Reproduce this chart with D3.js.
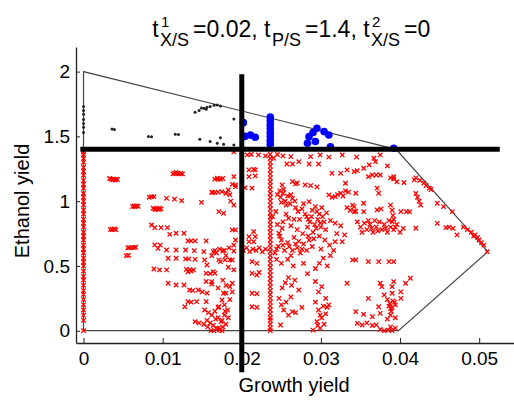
<!DOCTYPE html>
<html>
<head>
<meta charset="utf-8">
<script src="https://cdn.jsdelivr.net/npm/d3@7"></script>
<style>
  body { margin: 0; background: #fff; }
  svg { display: block; }
  text { font-family: "Liberation Sans", Arial, Helvetica, sans-serif; fill: #000; }
</style>
</head>
<body>
<svg id="chart" width="514" height="400"></svg>
<script>
// Thresholds shown in the title and drawn as the two thick guide lines
const growthThreshold1 = 0.02;
const ethanolThreshold = 1.4;
const growthThreshold2 = 0;

// Axis ticks
const xTickValues = [0, 0.01, 0.02, 0.03, 0.04, 0.05];
const xTickLabels = ["0", "0.01", "0.02", "0.03", "0.04", "0.05"];
const yTickValues = [0, 0.5, 1, 1.5, 2];
const yTickLabels = ["0", "0.5", "1", "1.5", "2"];

// Feasible yield space boundary (growth yield, ethanol yield)
const boundary = [[0, 0], [0, 2], [0.0395, 1.4], [0.0511, 0.61], [0.0398, 0], [0, 0]];

// Strains meeting both thresholds
const bluePoints = [
  [0.0202, 1.606], [0.0204, 1.50], [0.0211, 1.51], [0.0217, 1.493],
  [0.0236, 1.44], [0.0236, 1.47], [0.0236, 1.50], [0.0236, 1.53], [0.0236, 1.56],
  [0.0236, 1.59], [0.0236, 1.62], [0.0236, 1.65],
  [0.0295, 1.563], [0.0304, 1.537], [0.0310, 1.511], [0.0285, 1.498], [0.0290, 1.53],
  [0.0283, 1.447], [0.0293, 1.46], [0.0312, 1.42], [0.0392, 1.408]
];

// Strains above the ethanol threshold but below the growth threshold
const blackPoints = [
  [0, 1.53], [0, 1.57], [0, 1.60], [0, 1.63], [0, 1.67], [0, 1.70], [0, 1.73],
  [0.0036, 1.557], [0.0039, 1.553], [0.0082, 1.50], [0.0086, 1.497],
  [0.0116, 1.517], [0.0120, 1.515], [0.0141, 1.686], [0.0146, 1.70], [0.0149, 1.72],
  [0.0152, 1.717], [0.0155, 1.71], [0.0156, 1.725], [0.0160, 1.73], [0.0165, 1.74],
  [0.0169, 1.743], [0.0173, 1.735], [0.0190, 1.635],
  [0.0147, 1.478], [0.0160, 1.46], [0.0173, 1.49], [0.0169, 1.447], [0.0177, 1.44], [0.0190, 1.434]
];

// Strains below the ethanol threshold: zero-growth column
const redZeroGrowthY = [0, 0.08, 0.12, 0.16, 0.2, 0.24, 0.28, 0.31, 0.35, 0.39, 0.42, 0.46, 0.5,
  0.53, 0.56, 0.6, 0.63, 0.66, 0.7, 0.73, 0.76, 0.8, 0.83, 0.86, 0.9, 0.93, 0.97, 1.0, 1.03,
  1.06, 1.1, 1.13, 1.16, 1.2, 1.23, 1.26, 1.3, 1.33, 1.36, 1.38];

// Column of strains at growth yield 0.0236
const redColumnX = 0.0236;
const redColumnY = [0, 0.02, 0.05, 0.08, 0.1, 0.13, 0.16, 0.19, 0.22, 0.25, 0.28, 0.31, 0.34,
  0.37, 0.4, 0.43, 0.46, 0.49, 0.52, 0.55, 0.58, 0.61, 0.64, 0.67, 0.7, 0.73, 0.76, 0.79, 0.82,
  0.85, 0.88, 0.91, 0.94, 0.97, 1.0, 1.03, 1.06, 1.09, 1.12, 1.15, 1.18, 1.21, 1.24, 1.27, 1.3,
  1.33, 1.36];

// Remaining strains below the ethanol threshold
const redPoints = [
  [0.0035, 1.17], [0.0038, 1.17], [0.0041, 1.17], [0.0037, 1.165],
  [0.0033, 1.175], [0.0040, 1.163], [0.0043, 1.168],
  [0.0115, 1.215], [0.0119, 1.215], [0.0123, 1.215], [0.0121, 1.21],
  [0.0113, 1.21], [0.0125, 1.21], [0.0117, 1.222],
  [0.0166, 1.17], [0.0169, 1.177],
  [0.0086, 1.035], [0.0083, 1.03], [0.0089, 1.035],
  [0.0105, 1.022], [0.0115, 1.015], [0.0124, 1.004], [0.0149, 0.99],
  [0.0163, 1.066], [0.0166, 1.066], [0.0162, 1.07], [0.0170, 1.07], [0.0175, 1.073], [0.0180, 1.06], [0.0185, 1.05],
  [0.0064, 0.963], [0.0067, 0.963], [0.0065, 0.958], [0.0062, 0.958], [0.0069, 0.96],
  [0.0090, 0.94], [0.0093, 0.94], [0.0096, 0.945], [0.0091, 0.935], [0.0088, 0.945], [0.0095, 0.935], [0.0098, 0.94],
  [0.0036, 0.783], [0.0039, 0.785], [0.0034, 0.78], [0.0041, 0.78],
  [0.0086, 0.816], [0.0090, 0.795], [0.0098, 0.795], [0.0106, 0.795],
  [0.0109, 0.744], [0.0117, 0.752], [0.0127, 0.752],
  [0.0058, 0.641], [0.0061, 0.641], [0.0064, 0.641], [0.0066, 0.645], [0.0056, 0.64],
  [0.0054, 0.579], [0.0057, 0.582],
  [0.0090, 0.662], [0.0094, 0.636], [0.0097, 0.66], [0.0105, 0.623], [0.0117, 0.623], [0.0129, 0.623], [0.0140, 0.618],
  [0.0132, 0.693], [0.0136, 0.693], [0.0141, 0.693], [0.0155, 0.693],
  [0.0107, 0.559], [0.0117, 0.559], [0.0129, 0.554], [0.0133, 0.554], [0.0141, 0.551], [0.0153, 0.546], [0.0162, 0.579],
  [0.0089, 0.476], [0.0096, 0.469], [0.0105, 0.469],
  [0.0130, 0.474], [0.0134, 0.47], [0.0139, 0.469], [0.0136, 0.46], [0.0132, 0.455],
  [0.0155, 0.443], [0.0160, 0.44], [0.0166, 0.443], [0.0164, 0.456],
  [0.0107, 0.366], [0.0117, 0.353], [0.0127, 0.353],
  [0.0134, 0.314], [0.0138, 0.31], [0.0145, 0.314], [0.0150, 0.30], [0.0156, 0.29],
  [0.0132, 0.224], [0.0136, 0.22], [0.0143, 0.224], [0.0128, 0.185], [0.0155, 0.224],
  [0.0141, 0.07], [0.0146, 0.06],
  [0.0153, 0.16], [0.0158, 0.14], [0.0162, 0.12], [0.0166, 0.15], [0.0170, 0.10], [0.0156, 0.08],
  [0.0160, 0.06], [0.0164, 0.04], [0.0168, 0.02], [0.0172, 0.005], [0.0176, 0.03], [0.0174, 0.07],
  [0.0170, 0.18], [0.0178, 0.12], [0.0167, 0.09], [0.0161, 0.0], [0.0165, 0.0], [0.0157, 0.03],
  [0.0152, 0.05], [0.0175, 0.0], [0.0180, 0.05], [0.0183, 0.10], [0.0178, 0.20], [0.0182, 0.16],
  [0.0171, 0.02], [0.0175, 0.08], [0.0179, 0.15],
  [0.0155, 0.38], [0.0162, 0.36], [0.0170, 0.33], [0.0176, 0.39], [0.0180, 0.35],
  [0.0171, 0.185], [0.0175, 0.237], [0.0177, 0.289], [0.0185, 0.34], [0.0188, 0.366],
  [0.0180, 0.29], [0.0185, 0.24], [0.0188, 0.30],
  [0.0156, 0.507], [0.0162, 0.378],
  [0.0152, 0.61], [0.0164, 0.61], [0.0168, 0.60], [0.0176, 0.615], [0.0180, 0.58], [0.0185, 0.546],
  [0.0173, 0.533], [0.0183, 0.49], [0.0190, 0.47], [0.0190, 0.66], [0.0188, 0.778], [0.0192, 0.70],
  [0.0173, 1.169], [0.0170, 1.17], [0.0176, 1.175], [0.0190, 1.189], [0.0192, 1.125], [0.0188, 1.13],
  [0.0192, 1.112], [0.0183, 1.087], [0.0171, 0.919], [0.0177, 0.906], [0.0192, 0.778],
  [0.0190, 0.97], [0.0186, 1.0], [0.0190, 1.38],
  [0.0207, 1.357], [0.0212, 1.36], [0.0221, 1.357], [0.0230, 1.349], [0.0240, 1.331], [0.0262, 1.344],
  [0.0272, 1.305], [0.0257, 1.287], [0.0264, 1.287], [0.0285, 1.287], [0.0297, 1.287], [0.0287, 1.344],
  [0.0299, 1.357], [0.0327, 1.357], [0.0367, 1.331], [0.0375, 1.357], [0.0245, 1.36], [0.0252, 1.35],
  [0.0310, 1.34], [0.0345, 1.34],
  [0.0209, 1.241], [0.0217, 1.241], [0.0215, 1.246], [0.0209, 1.189], [0.0217, 1.195], [0.0213, 1.10],
  [0.0204, 1.104], [0.0251, 1.125], [0.0264, 1.151], [0.0268, 1.133], [0.0270, 1.14], [0.0280, 1.125],
  [0.0287, 1.12], [0.0295, 1.11], [0.0314, 1.215], [0.0325, 1.215], [0.0333, 1.241], [0.0331, 1.138],
  [0.0342, 1.228], [0.0346, 1.235], [0.0354, 1.254], [0.0361, 1.28], [0.0369, 1.305], [0.0384, 1.272],
  [0.0365, 1.202], [0.0370, 1.202], [0.0375, 1.202], [0.0360, 1.189], [0.0388, 1.18], [0.0392, 1.17],
  [0.0396, 1.15], [0.0405, 1.143], [0.0418, 1.164], [0.0392, 1.189],
  [0.0245, 1.05], [0.0249, 1.03], [0.0252, 1.06], [0.0255, 1.0], [0.0258, 1.04], [0.0261, 0.98],
  [0.0264, 1.02], [0.0267, 1.0], [0.0250, 0.99], [0.0256, 0.97], [0.0262, 1.05], [0.0248, 1.08], [0.0253, 1.09],
  [0.0276, 0.94], [0.0271, 0.92], [0.0278, 0.98], [0.0268, 0.95], [0.0289, 0.93], [0.0295, 0.92],
  [0.0301, 0.95], [0.0307, 0.91], [0.0243, 0.92], [0.0239, 0.88], [0.0256, 0.90], [0.0252, 0.84],
  [0.0310, 1.048], [0.0318, 1.035], [0.0325, 1.061], [0.0331, 1.08], [0.0333, 0.95], [0.0337, 0.93],
  [0.0340, 0.97], [0.0344, 0.92], [0.0285, 0.996], [0.0293, 0.958], [0.0344, 1.061], [0.0371, 1.10],
  [0.0373, 1.061], [0.0354, 0.984], [0.0342, 0.958], [0.0342, 0.919], [0.0354, 0.919], [0.0371, 0.932], [0.0376, 0.94],
  [0.0314, 1.03], [0.0321, 1.05], [0.0328, 1.04], [0.0335, 1.07],
  [0.0420, 1.18], [0.0425, 1.16], [0.0430, 1.14], [0.0433, 1.12], [0.0437, 1.10], [0.0439, 1.09],
  [0.0420, 1.06], [0.0422, 1.03], [0.0424, 1.0], [0.0426, 0.97],
  [0.0447, 0.984], [0.0455, 0.958], [0.0466, 0.919],
  [0.0388, 0.97], [0.0390, 0.93], [0.0391, 0.89], [0.0392, 0.86], [0.0390, 0.84],
  [0.0401, 0.919], [0.0408, 0.919], [0.0412, 0.919],
  [0.0346, 0.84], [0.0350, 0.80], [0.0355, 0.83], [0.0358, 0.78], [0.0362, 0.82], [0.0366, 0.76],
  [0.0370, 0.80], [0.0374, 0.84], [0.0377, 0.78], [0.0380, 0.82], [0.0384, 0.76], [0.0388, 0.80],
  [0.0392, 0.78], [0.0396, 0.82], [0.0400, 0.76], [0.0404, 0.79], [0.0352, 0.76], [0.0360, 0.85],
  [0.0368, 0.85], [0.0386, 0.85], [0.0364, 0.79], [0.0372, 0.77], [0.0382, 0.79], [0.0394, 0.80],
  [0.0420, 0.791], [0.0447, 0.829], [0.0458, 0.795], [0.0462, 0.80], [0.0467, 0.79], [0.0480, 0.80],
  [0.0485, 0.78], [0.0490, 0.76], [0.0495, 0.74], [0.0498, 0.72], [0.0472, 0.739], [0.0493, 0.73],
  [0.0500, 0.70], [0.0503, 0.68], [0.0506, 0.66], [0.0510, 0.61],
  [0.0280, 0.90], [0.0284, 0.86], [0.0288, 0.88], [0.0292, 0.82], [0.0296, 0.86], [0.0300, 0.80],
  [0.0304, 0.84], [0.0306, 0.78], [0.0283, 0.80], [0.0290, 0.76], [0.0298, 0.90], [0.0302, 0.88],
  [0.0286, 0.84], [0.0294, 0.79], [0.0282, 0.88], [0.0299, 0.83],
  [0.0259, 0.868], [0.0266, 0.86], [0.0273, 0.86], [0.0251, 0.791], [0.0247, 0.752], [0.0215, 0.765],
  [0.0209, 0.726], [0.0217, 0.726], [0.0320, 0.75], [0.0330, 0.74], [0.0312, 0.85], [0.0318, 0.83], [0.0325, 0.81],
  [0.0245, 0.82], [0.0262, 0.81], [0.0270, 0.78], [0.0277, 0.75], [0.0284, 0.73], [0.0291, 0.71],
  [0.0298, 0.73], [0.0305, 0.70], [0.0311, 0.66], [0.0316, 0.62], [0.0300, 0.63], [0.0289, 0.65],
  [0.0202, 0.62], [0.0206, 0.64], [0.0210, 0.61], [0.0214, 0.63], [0.0218, 0.62], [0.0222, 0.64],
  [0.0226, 0.61], [0.0230, 0.63], [0.0209, 0.687], [0.0215, 0.687], [0.0242, 0.60], [0.0246, 0.65],
  [0.0250, 0.70], [0.0254, 0.62], [0.0258, 0.68], [0.0262, 0.58], [0.0266, 0.72], [0.0270, 0.64],
  [0.0274, 0.60], [0.0278, 0.67], [0.0282, 0.62], [0.0285, 0.70], [0.0248, 0.73], [0.0260, 0.65], [0.0272, 0.69],
  [0.0244, 0.63], [0.0252, 0.66], [0.0264, 0.62], [0.0276, 0.63], [0.0268, 0.67],
  [0.0166, 0.62], [0.0172, 0.63], [0.0178, 0.62], [0.0184, 0.64], [0.0190, 0.615],
  [0.0171, 0.546], [0.0179, 0.546], [0.0188, 0.546],
  [0.0213, 0.533], [0.0219, 0.52], [0.0213, 0.443], [0.0219, 0.43], [0.0222, 0.45], [0.0213, 0.289],
  [0.0219, 0.285], [0.0213, 0.185], [0.0219, 0.18],
  [0.0251, 0.33], [0.0255, 0.37], [0.0259, 0.41], [0.0263, 0.35], [0.0267, 0.39], [0.0272, 0.314],
  [0.0244, 0.55], [0.0250, 0.52], [0.0258, 0.55], [0.0265, 0.50], [0.0278, 0.52], [0.0283, 0.44],
  [0.0247, 0.25], [0.0250, 0.20], [0.0253, 0.16], [0.0256, 0.22], [0.0259, 0.12], [0.0249, 0.044],
  [0.0264, 0.147], [0.0268, 0.14], [0.0262, 0.26], [0.0276, 0.18],
  [0.0293, 0.38], [0.0297, 0.30], [0.0301, 0.34], [0.0306, 0.25], [0.0293, 0.22], [0.0297, 0.16],
  [0.0301, 0.10], [0.0304, 0.05], [0.0306, 0.13], [0.0310, 0.20], [0.0295, 0.07], [0.0299, 0.02],
  [0.0290, 0.005], [0.0308, 0.18], [0.0303, 0.19], [0.0299, 0.12], [0.0296, 0.04],
  [0.0293, 0.48], [0.0298, 0.52], [0.0303, 0.56], [0.0308, 0.50], [0.0312, 0.58], [0.0318, 0.687],
  [0.0327, 0.687], [0.0333, 0.366], [0.0340, 0.546], [0.0344, 0.546],
  [0.0360, 0.533], [0.0373, 0.533], [0.0386, 0.533], [0.0392, 0.533], [0.0413, 0.405], [0.0407, 0.366],
  [0.0375, 0.366], [0.0377, 0.34], [0.0392, 0.379], [0.0390, 0.34], [0.0380, 0.276], [0.0390, 0.289],
  [0.0401, 0.30], [0.0360, 0.25],
  [0.0384, 0.24], [0.0387, 0.21], [0.0390, 0.18], [0.0393, 0.22], [0.0388, 0.17], [0.0394, 0.20],
  [0.0386, 0.19], [0.0391, 0.23], [0.0389, 0.15],
  [0.0401, 0.25], [0.0373, 0.185], [0.0344, 0.147], [0.0354, 0.126], [0.0365, 0.108], [0.0375, 0.134],
  [0.0384, 0.09], [0.0388, 0.12], [0.0394, 0.10], [0.0346, 0.057], [0.0352, 0.044], [0.0358, 0.06],
  [0.0365, 0.04], [0.0370, 0.045], [0.0375, 0.01], [0.0380, 0.0], [0.0385, 0.005], [0.0390, 0.0],
  [0.0394, 0.02], [0.0388, 0.03]
];

const svg = d3.select("#chart");

const x = d3.scaleLinear().domain([-0.00095, 0.0544]).range([76, 514]);
const y = d3.scaleLinear().domain([-0.095, 2.19]).range([343, 47]);

// Feasible region outline
svg.append("path")
  .datum(boundary)
  .attr("d", d3.line().x(d => x(d[0])).y(d => y(d[1])))
  .attr("fill", "none")
  .attr("stroke", "#444")
  .attr("stroke-width", 1.2);

// Axes
const xAxis = svg.append("g")
  .attr("transform", "translate(0,343)")
  .call(d3.axisBottom(x).tickValues(xTickValues)
    .tickFormat((d, i) => xTickLabels[i])
    .tickSize(-5).tickSizeOuter(0).tickPadding(9));
const yAxis = svg.append("g")
  .attr("transform", "translate(76,0)")
  .call(d3.axisLeft(y).tickValues(yTickValues)
    .tickFormat((d, i) => yTickLabels[i])
    .tickSize(-4).tickSizeOuter(0).tickPadding(6));
[xAxis, yAxis].forEach(g => {
  g.select(".domain").attr("stroke", "#222").attr("stroke-width", 1.3);
  g.selectAll(".tick line").attr("stroke", "#222").attr("stroke-width", 1);
  g.selectAll(".tick text").attr("font-size", 19).attr("font-family", null);
});

// Markers
const cross = "M-2.2,-2.2L2.2,2.2M-2.2,2.2L2.2,-2.2";
const redAll = redZeroGrowthY.map(v => [0, v])
  .concat(redColumnY.map(v => [redColumnX, v]))
  .concat(redPoints);

svg.append("g").selectAll("path")
  .data(redAll).join("path")
  .attr("d", cross)
  .attr("transform", d => `translate(${x(d[0])},${y(d[1])})`)
  .attr("fill", "none")
  .attr("stroke", "#ff0000")
  .attr("stroke-width", 1.3);

svg.append("g").selectAll("circle")
  .data(blackPoints).join("circle")
  .attr("cx", d => x(d[0])).attr("cy", d => y(d[1]))
  .attr("r", 1.5).attr("fill", "#222");

svg.append("g").selectAll("circle")
  .data(bluePoints).join("circle")
  .attr("cx", d => x(d[0])).attr("cy", d => y(d[1]))
  .attr("r", 3.8).attr("fill", "#0000ff");

// Threshold guide lines
svg.append("line")
  .attr("x1", x(growthThreshold1)).attr("x2", x(growthThreshold1))
  .attr("y1", y(1.98)).attr("y2", y(-0.32))
  .attr("stroke", "#000").attr("stroke-width", 5);
svg.append("line")
  .attr("x1", x(-0.0004)).attr("x2", x(0.0526))
  .attr("y1", y(ethanolThreshold)).attr("y2", y(ethanolThreshold))
  .attr("stroke", "#000").attr("stroke-width", 5);

// Axis titles
svg.append("text")
  .attr("x", 294).attr("y", 392)
  .attr("text-anchor", "middle").attr("font-size", 20)
  .text("Growth yield");
svg.append("text")
  .attr("transform", "translate(29,201) rotate(-90)")
  .attr("text-anchor", "middle").attr("font-size", 20)
  .text("Ethanol yield");

// Title with stacked superscripts / subscripts
const titleParts = [
  { main: "t" },
  { sup: "1", sub: "X/S" },
  { main: "=" + growthThreshold1 + ", t" },
  { sub: "P/S" },
  { main: "=" + ethanolThreshold + ", t" },
  { sup: "2", sub: "X/S" },
  { main: "=" + growthThreshold2 }
];
const title = svg.append("g");
let cursor = 0;
titleParts.forEach(p => {
  if (p.main !== undefined) {
    const t = title.append("text").attr("x", cursor).attr("y", 37)
      .attr("font-size", 23).text(p.main);
    cursor += t.node().getComputedTextLength() + 1.5;
  } else {
    let w = 0;
    if (p.sup) {
      const s = title.append("text").attr("x", cursor + 1).attr("y", 27)
        .attr("font-size", 15).text(p.sup);
      w = Math.max(w, s.node().getComputedTextLength() + 1);
    }
    if (p.sub) {
      const s = title.append("text").attr("x", cursor).attr("y", 46)
        .attr("font-size", 18).text(p.sub);
      w = Math.max(w, s.node().getComputedTextLength());
    }
    cursor += w + 4;
  }
});
title.attr("transform", `translate(${292 - cursor / 2},0)`);
</script>
</body>
</html>
